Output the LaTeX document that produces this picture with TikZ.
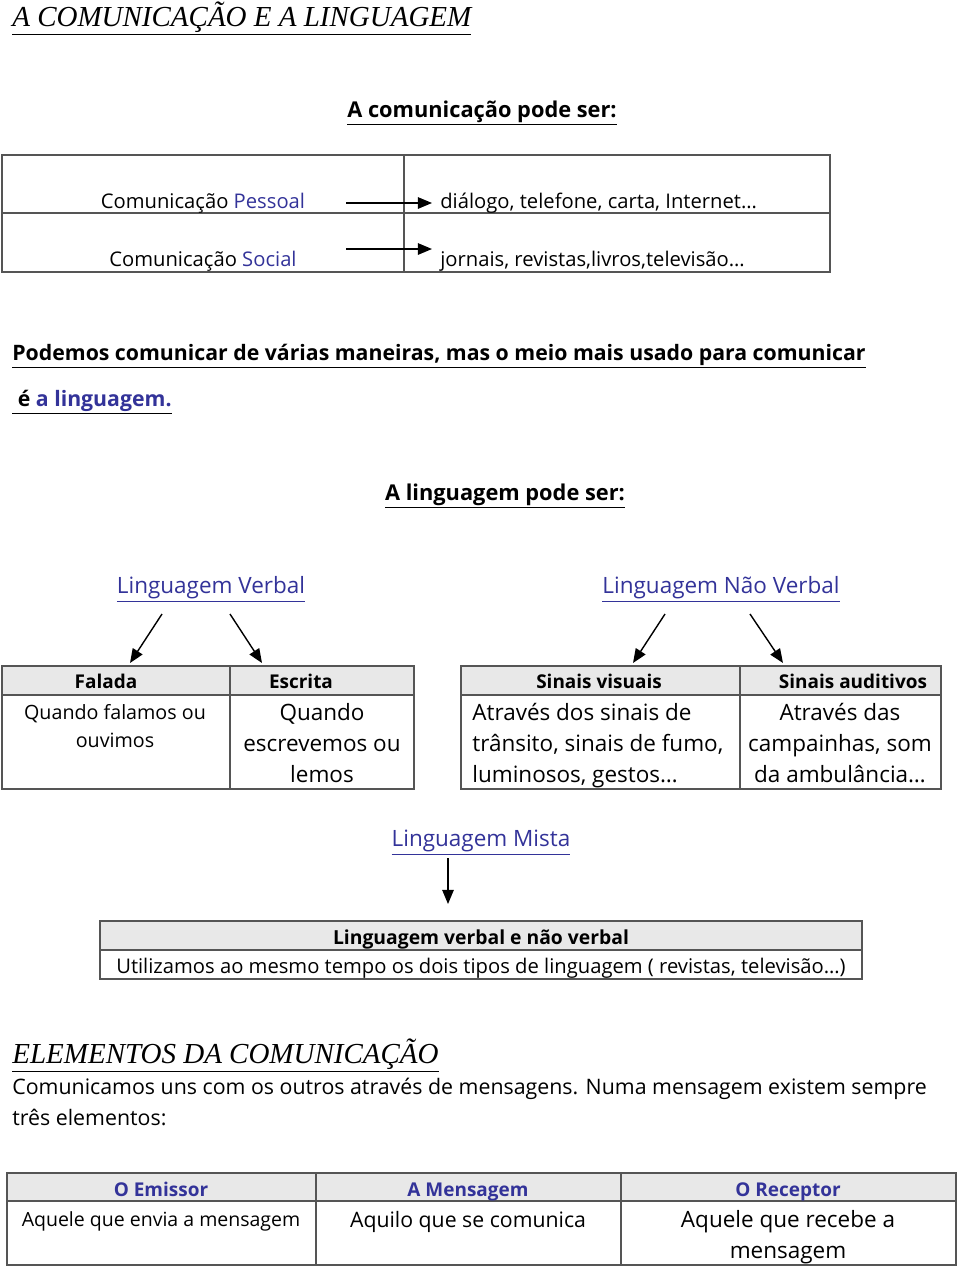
\documentclass[tikz,border=0pt]{standalone}
\usepackage{fontspec}
\setmainfont{Open Sans}
\newfontfamily\titlefont{Liberation Serif}
\usetikzlibrary{arrows.meta}
\definecolor{colorBlue}{RGB}{51,51,153}
\definecolor{colorHead}{RGB}{232,232,232}
\definecolor{colorRule}{RGB}{85,85,85}
\tikzset{
  txt/.style={inner sep=0pt, anchor=base},
  txtl/.style={inner sep=0pt, anchor=base west},
  title/.style={txtl, font=\titlefont\itshape\fontsize{16.5}{19}\selectfont},
  head/.style={txt, font=\bfseries\fontsize{12.4}{15}\selectfont},
  body/.style={font=\fontsize{11.2}{13}\selectfont},
  row/.style={font=\fontsize{11.5}{14}\selectfont},
  big/.style={font=\fontsize{12.8}{15}\selectfont},
  cellhead/.style={txt, font=\bfseries\fontsize{10.8}{13}\selectfont},
  tab/.style={draw=colorRule, line width=0.8pt},
  arr/.style={-{Triangle[length=8pt,width=6.5pt]}, line width=0.8pt},
}
\begin{document}
\begin{tikzpicture}[x=0.02cm, y=-0.02cm]
\useasboundingbox (0,0) rectangle (960,1268);

% titulo
\node[title] (t0) at (12,26) {\underline{A COMUNICAÇÃO E A LINGUAGEM}};
\node[head] (h1) at (482,117) {\underline{A comunicação pode ser:}};

% tabela da comunicacao
\draw[tab] (2,155) rectangle (830,272) (2,213) -- (830,213) (404,155) -- (404,272);
\node[txt, row] (c1) at (203,208) {Comunicação \textcolor{colorBlue}{Pessoal}};
\node[txt, row] (c2) at (203,266) {Comunicação \textcolor{colorBlue}{Social}};
\node[txtl, row] (d1) at (440,208) {diálogo, telefone, carta, Internet…};
\node[txtl, row] (d2) at (440,266) {jornais, revistas,livros,televisão…};
\coordinate (a1) at (346,203);
\coordinate (b1) at (432,203);
\coordinate (a2) at (346,249);
\coordinate (b2) at (432,249);
\draw[arr] (a1) -- (b1);
\draw[arr] (a2) -- (b2);

\node[txtl, font=\bfseries\fontsize{12.1}{14}\selectfont] (p1) at (12,360)
  {\underline{Podemos comunicar de várias maneiras, mas o meio mais usado para comunicar}};
\node[txtl, font=\bfseries\fontsize{12.1}{14}\selectfont] (p2) at (12,406)
  {\underline{\ é \textcolor{colorBlue}{a linguagem.}}};

\node[head] (h2) at (505,500) {\underline{A linguagem pode ser:}};

% linguagem verbal e nao verbal
\node[txt, big, text=colorBlue] (lv) at (211,593) {\underline{Linguagem Verbal}};
\node[txt, big, text=colorBlue] (lnv) at (721,593) {\underline{Linguagem Não Verbal}};
\coordinate (v1) at (162,614);
\coordinate (v2) at (230,614);
\coordinate (v3) at (665,614);
\coordinate (v4) at (750,614);
\coordinate (f1) at (130,663);
\coordinate (f2) at (262,663);
\coordinate (f3) at (633,663);
\coordinate (f4) at (783,663);
\draw[arr] (v1) -- (f1);
\draw[arr] (v2) -- (f2);
\draw[arr] (v3) -- (f3);
\draw[arr] (v4) -- (f4);

\fill[colorHead] (2,666) rectangle (414,695);
\fill[colorHead] (461,666) rectangle (941,695);
\draw[tab] (2,666) rectangle (414,789) (2,695) -- (414,695) (230,666) -- (230,789);
\draw[tab] (461,666) rectangle (941,789) (461,695) -- (941,695) (740,666) -- (740,789);

\node[cellhead] (fa) at (106,688) {Falada};
\node[cellhead] (es) at (301,688) {Escrita};
\node[cellhead] (sv) at (599,688) {Sinais visuais};
\node[cellhead] (sa) at (853,688) {Sinais auditivos};
\node[txt, body] (fa1) at (115,719) {Quando falamos ou};
\node[txt, body] (fa2) at (115,747) {ouvimos};
\node[txt, big] (es1) at (322,720) {Quando};
\node[txt, big] (es2) at (322,751) {escrevemos ou};
\node[txt, big] (es3) at (322,782) {lemos};
\node[txtl, big] (sv1) at (472,720) {Através dos sinais de};
\node[txtl, big] (sv2) at (472,751) {trânsito, sinais de fumo,};
\node[txtl, big] (sv3) at (472,782) {luminosos, gestos…};
\node[txt, big] (sa1) at (840,720) {Através das};
\node[txt, big] (sa2) at (840,751) {campainhas, som};
\node[txt, big] (sa3) at (840,782) {da ambulância…};

% linguagem mista
\node[txt, big, text=colorBlue] (lm) at (481,846) {\underline{Linguagem Mista}};
\coordinate (m1) at (448,858);
\coordinate (m2) at (448,904);
\draw[arr] (m1) -- (m2);
\fill[colorHead] (100,921) rectangle (862,950);
\draw[tab] (100,921) rectangle (862,979) (100,950) -- (862,950);
\node[cellhead, font=\bfseries\fontsize{11}{13}\selectfont] (mh) at (481,944) {Linguagem verbal e não verbal};
\node[txt, font=\fontsize{11.5}{13}\selectfont] (mb) at (481,973) {Utilizamos ao mesmo tempo os dois tipos de linguagem ( revistas, televisão…)};

% elementos
\node[title] (t1) at (12,1063) {\underline{ELEMENTOS DA COMUNICAÇÃO}};
\node[txtl, font=\fontsize{12.15}{15}\selectfont] (e1) at (12,1094) {Comunicamos uns com os outros através de mensagens. Numa mensagem existem sempre};
\node[txtl, font=\fontsize{12.15}{15}\selectfont] (e2) at (12,1125) {três elementos:};

\fill[colorHead] (7,1173) rectangle (956,1201);
\draw[tab] (7,1173) rectangle (956,1265) (7,1201) -- (956,1201) (316,1173) -- (316,1265) (621,1173) -- (621,1265);
\node[cellhead, text=colorBlue] (em) at (161,1196) {O Emissor};
\node[cellhead, text=colorBlue] (me) at (468,1196) {A Mensagem};
\node[cellhead, text=colorBlue] (re) at (788,1196) {O Receptor};
\node[txt, font=\fontsize{11.1}{13}\selectfont] (em1) at (161,1226) {Aquele que envia a mensagem};
\node[txt, font=\fontsize{12.1}{15}\selectfont] (me1) at (468,1227) {Aquilo que se comunica};
\node[txt, big] (re1) at (788,1227) {Aquele que recebe a};
\node[txt, big] (re2) at (788,1258) {mensagem};
\end{tikzpicture}
\end{document}
